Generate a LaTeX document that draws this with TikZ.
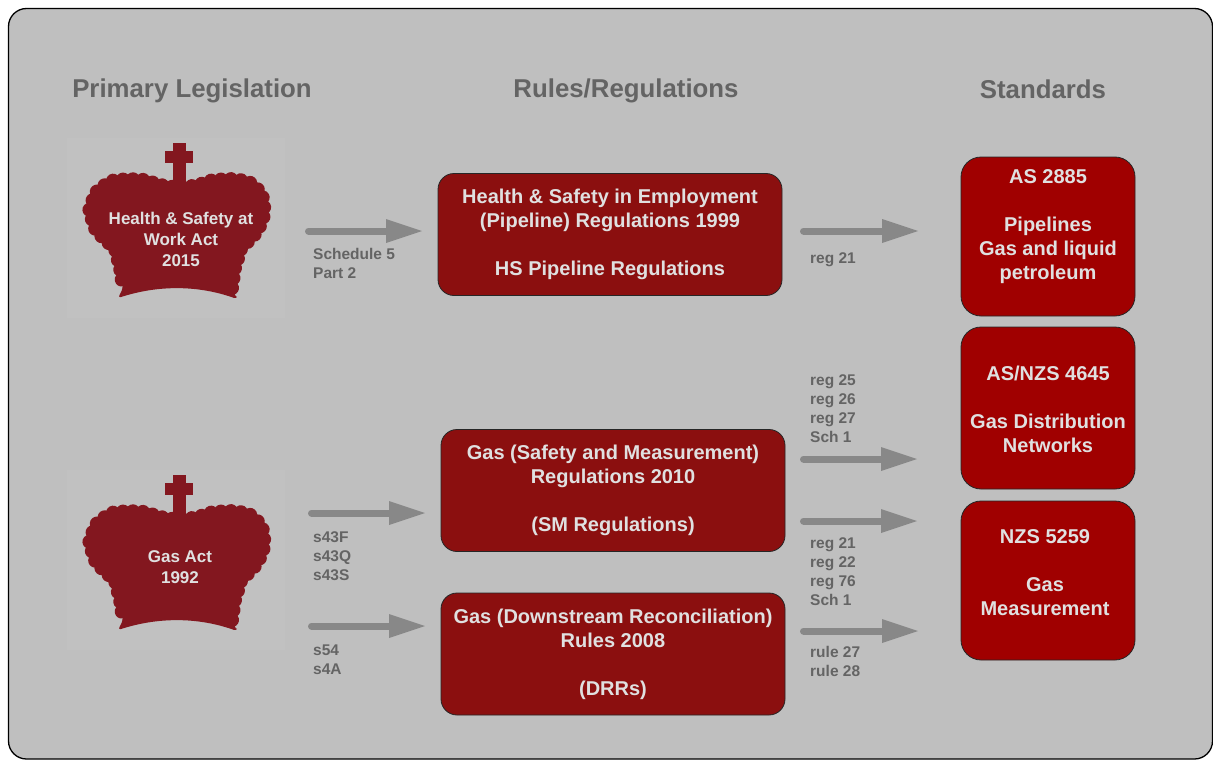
\documentclass[tikz,border=0pt]{standalone}
\usepackage{fontspec}
\setmainfont{Liberation Sans}
\usetikzlibrary{calc,decorations.markings}
\definecolor{bggray}{HTML}{BFBFBF}
\definecolor{imggray}{HTML}{C1C1C1}
\definecolor{titlegray}{HTML}{646464}
\definecolor{arrowgray}{HTML}{888888}
\definecolor{rulered}{HTML}{8B0F0F}
\definecolor{stdred}{HTML}{A00000}
\definecolor{crownred}{HTML}{83171F}
\definecolor{boxtext}{HTML}{E0E0E0}
\tikzset{
  crownshape/.pic={
    \fill[crownred] (-5,0) rectangle (8,42);
    \fill[crownred] (-13,8) rectangle (15,20);
    \fill[crownred, rounded corners=3pt] (59,156) -- (54,145) -- (57,125) -- (63,106) -- (80,88) -- (87,70) -- (84,50) -- (70,38) -- (52,36) -- (35,37) -- (20,42) -- (9,44) -- (-5,44) -- (-18,42) -- (-33,37) -- (-50,36) -- (-68,38) -- (-83,50) -- (-89,68) -- (-82,88) -- (-63,106) -- (-58,125) -- (-55,145) -- (-60,155) .. controls (-20,142) and (20,142) .. (59,156) -- cycle;
    \path[decorate, decoration={markings, mark=between positions 0 and 1 step 10pt with {\fill[crownred] (0,0) circle (7pt);}}]
      (54,145) -- (57,125) -- (63,106) -- (80,88) -- (87,70) -- (84,50) -- (70,38) -- (52,36) -- (35,37) -- (20,42) -- (9,44) -- (-5,44) -- (-18,42) -- (-33,37) -- (-50,36) -- (-68,38) -- (-83,50) -- (-89,68) -- (-82,88) -- (-63,106) -- (-58,125) -- (-55,145);
  },
  title/.style={text=titlegray, font=\bfseries\fontsize{25.8}{30}\selectfont, inner sep=0pt, anchor=base},
  lbl/.style={text=titlegray, font=\bfseries\fontsize{15.5}{19}\selectfont, align=left, anchor=west, inner sep=0pt},
  rulebox/.style={draw=black!85, line width=0.8pt, fill=rulered, rounded corners=16pt, minimum width=344pt, minimum height=122pt, text=boxtext, align=center, font=\bfseries\fontsize{20}{24}\selectfont},
  stdbox/.style={draw=black!85, line width=0.8pt, fill=stdred, rounded corners=20pt, minimum width=174pt, minimum height=160pt},
  stdtext/.style={text=boxtext, align=center, font=\bfseries\fontsize{20}{24}\selectfont, inner sep=0pt},
  crowntext/.style={text=boxtext, align=center, font=\bfseries\fontsize{17}{21}\selectfont, inner sep=0pt},
  shaft/.style={draw=arrowgray, line width=7pt, line cap=round},
}
\newcommand{\garrow}[2]{%
  \draw[shaft] (#1) -- ($(#2)+(-34,0)$);
  \fill[arrowgray] (#2) -- ($(#2)+(-36,-12)$) -- ($(#2)+(-36,12)$) -- cycle;}
\begin{document}
\begin{tikzpicture}[x=1pt,y=-1pt]
\useasboundingbox (0,0) rectangle (1213,760);
\fill[white] (0,0) rectangle (1213,760);
\draw[fill=bggray, line width=1.3pt, rounded corners=18pt] (8.5,8.5) rectangle (1212.5,759);

% titles
\node[title] (t1) at (192,97.5) {Primary Legislation};
\node[title] (t2) at (626,98) {Rules/Regulations};
\node[title] (t3) at (1043,99) {Standards};

% crowns
\fill[imggray] (67,138) rectangle (285,318);
\fill[imggray] (67,470) rectangle (285,650);
\pic at (178,143) {crownshape};
\pic at (178,475) {crownshape};
\node[crowntext] (hswa) at (181,239) {Health \& Safety at\\Work Act\\2015};
\node[crowntext] (gasact) at (180,567) {Gas Act\\1992};

% rule boxes
\node[rulebox] (hsreg) at (610,234.5) {Health \& Safety in Employment\\(Pipeline) Regulations 1999\\[24pt]HS Pipeline Regulations};
\node[rulebox] (smreg) at (613,490.5) {Gas (Safety and Measurement)\\Regulations 2010\\[24pt](SM Regulations)};
\node[rulebox] (drr) at (613,654) {Gas (Downstream Reconciliation)\\Rules 2008\\[24pt](DRRs)};

% standards
\node[stdbox, minimum height=159pt] (as2885) at (1048,236.5) {};
\node[stdtext] (as2885t) at (1048,227) {AS 2885\\[24pt]Pipelines\\Gas and liquid\\petroleum};
\node[stdbox, minimum height=162pt] (as4645) at (1048,408) {};
\node[stdtext] (as4645t) at (1048,409) {AS/NZS 4645\\[24pt]Gas Distribution\\Networks};
\node[stdbox, minimum height=159pt] (nzs5259) at (1048,580.5) {};
\node[stdtext] (nzs5259t) at (1045,573) {NZS 5259\\[24pt]Gas\\Measurement};

% arrow end points
\coordinate (a1s) at (308.5,231); \coordinate (a1e) at (422,231);
\coordinate (a2s) at (803.5,231); \coordinate (a2e) at (918,231);
\coordinate (a3s) at (311.5,513); \coordinate (a3e) at (425,513);
\coordinate (a4s) at (311.5,626); \coordinate (a4e) at (425,626);
\coordinate (a5s) at (803.5,459); \coordinate (a5e) at (917,459);
\coordinate (a6s) at (803.5,521); \coordinate (a6e) at (917,521);
\coordinate (a7s) at (803.5,631); \coordinate (a7e) at (918,631);
\garrow{a1s}{a1e}
\garrow{a2s}{a2e}
\garrow{a3s}{a3e}
\garrow{a4s}{a4e}
\garrow{a5s}{a5e}
\garrow{a6s}{a6e}
\garrow{a7s}{a7e}

% labels
\node[lbl] (l1) at (313,263) {Schedule 5\\Part 2};
\node[lbl] (l2) at (810,259.5) {reg 21};
\node[lbl] (l3) at (810,409) {reg 25\\reg 26\\reg 27\\Sch 1};
\node[lbl] (l4) at (810,572) {reg 21\\reg 22\\reg 76\\Sch 1};
\node[lbl] (l5) at (810,661) {rule 27\\rule 28};
\node[lbl] (l6) at (313,556) {s43F\\s43Q\\s43S};
\node[lbl] (l7) at (313,660) {s54\\s4A};
\end{tikzpicture}
\end{document}
